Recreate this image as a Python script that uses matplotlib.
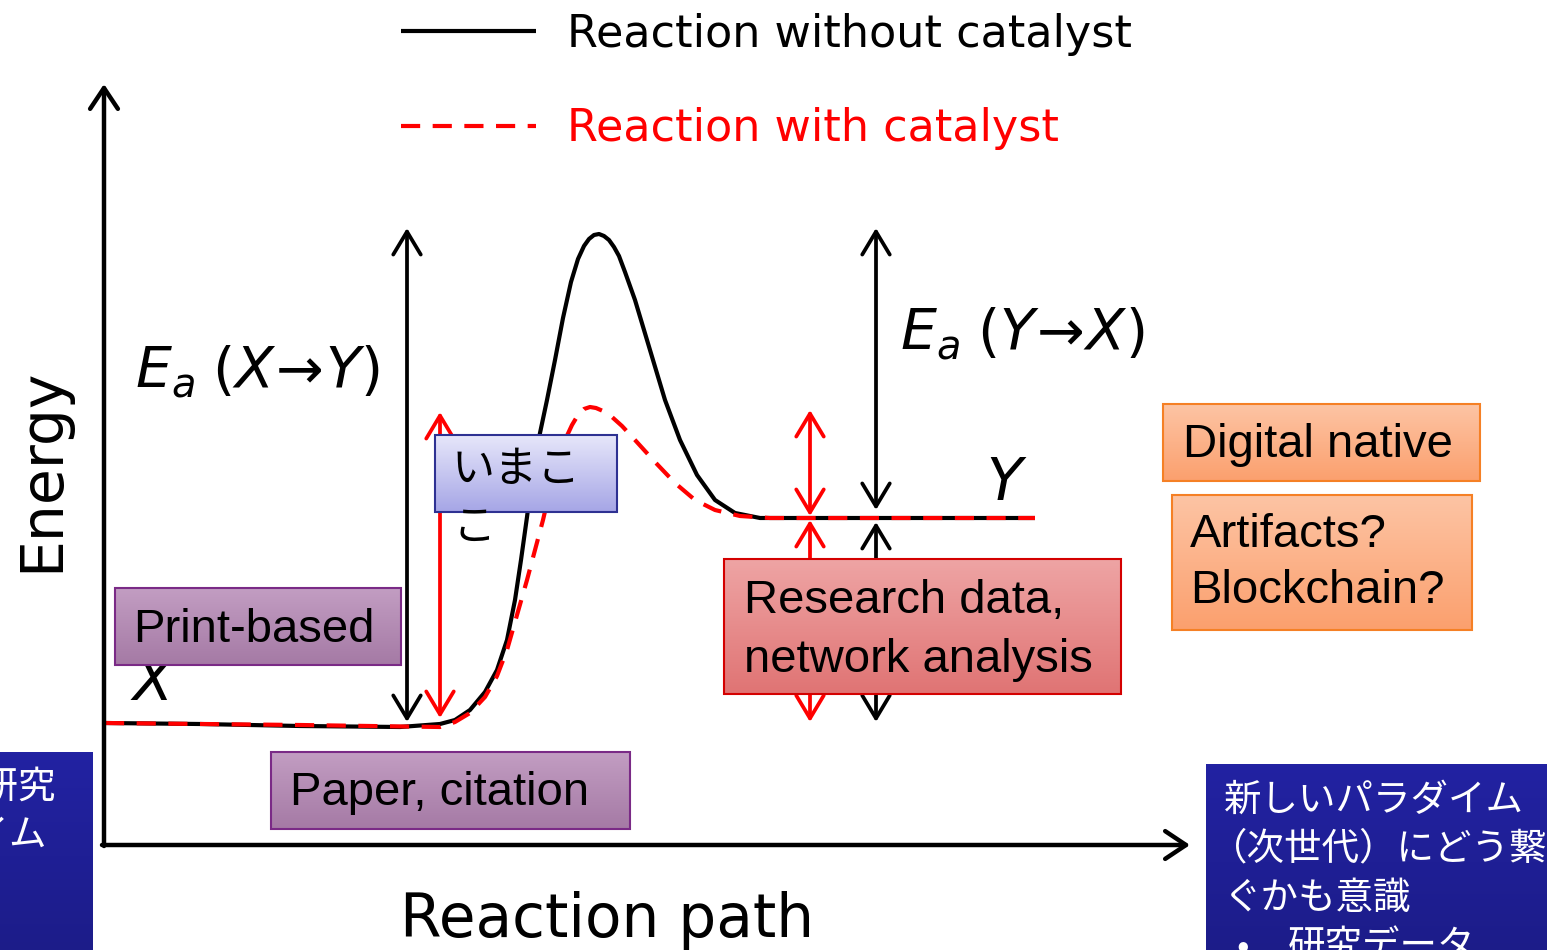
import numpy as np
import matplotlib.pyplot as plt
from matplotlib.patches import Rectangle
from matplotlib.colors import LinearSegmentedColormap

plt.rcParams['font.family'] = ['DejaVu Sans', 'Noto Sans CJK JP']
plt.rcParams['mathtext.fontset'] = 'dejavusans'

# energy profiles (diagram pixel units: x = reaction path, y = energy, down is low)
path_black = [105, 200, 300, 400, 440, 455, 470, 485, 497, 507, 515, 521, 527, 533, 540,
              547, 555, 563, 571, 578, 584, 589, 594, 599, 604, 609, 614, 619, 625, 635,
              650, 665, 680, 697, 715, 735, 760, 1035]
energy_black = [723, 724, 726, 727, 724, 720, 710, 692, 670, 640, 600, 560, 517, 470, 433,
                400, 360, 318, 282, 259, 246, 239, 235, 234, 236, 240, 247, 256, 272, 300,
                350, 400, 440, 475, 500, 513, 518, 518]
path_red = [105, 300, 440, 455, 470, 485, 497, 507, 517, 527, 535, 543, 550, 557, 565,
            572, 578, 584, 590, 596, 603, 612, 622, 635, 655, 675, 695, 715, 740, 770, 1035]
energy_red = [723, 725, 727, 722, 713, 697, 676, 650, 615, 580, 550, 520, 490, 462, 440,
              425, 415, 409, 407, 408, 411, 417, 426, 440, 462, 483, 500, 510, 516, 518, 518]

level_x = 724      # energy of X
level_y = 518      # energy of Y
peak_black = 228
peak_red = 411

fig = plt.figure(figsize=(15.47, 9.5), dpi=100)
ax = fig.add_axes([0, 0, 1, 1])


def box(x0, y0, x1, y1, top, bottom, edge, lw=1.5, z=5):
    grad = np.linspace(0, 1, 64).reshape(-1, 1)
    cmap = LinearSegmentedColormap.from_list('g', [top, bottom])
    ax.imshow(grad, cmap=cmap, extent=(x0, x1, y1, y0), aspect='auto',
              interpolation='bicubic', zorder=z)
    if edge:
        ax.add_patch(Rectangle((x0, y0), x1 - x0, y1 - y0, fill=False,
                               ec=edge, lw=lw, zorder=z + 0.1))


def darrow(x, y_top, y_bot, color):
    ax.annotate('', xy=(x, y_top), xytext=(x, y_bot),
                arrowprops=dict(arrowstyle='<->, head_length=0.75, head_width=0.45',
                                lw=2.7, color=color, mutation_scale=22,
                                shrinkA=0, shrinkB=0), zorder=3)


# axes arrows
ax.annotate('', xy=(104, 84), xytext=(104, 846),
            arrowprops=dict(arrowstyle='->, head_length=0.6, head_width=0.4',
                            lw=3.2, color='black', mutation_scale=25,
                            shrinkA=0, shrinkB=0))
ax.annotate('', xy=(1190, 845), xytext=(102, 845),
            arrowprops=dict(arrowstyle='->, head_length=0.6, head_width=0.4',
                            lw=3.2, color='black', mutation_scale=25,
                            shrinkA=0, shrinkB=0))
ax.text(42, 470, 'Energy', rotation=90, fontsize=42, ha='center', va='center')
ax.text(400, 937, 'Reaction path', fontsize=43, ha='left', va='baseline')

# curves
ax.plot(path_black, energy_black, color='black', lw=3, zorder=2,
        label='Reaction without catalyst', solid_capstyle='butt')
ax.plot(path_red, energy_red, color='red', lw=3, zorder=2.5,
        dashes=(4.6, 3.0), label='Reaction with catalyst')

# activation energy arrows
darrow(407, peak_black, level_x - 2, 'black')
darrow(440, peak_red + 1, level_x - 6, 'red')
darrow(810, peak_red - 1, level_y - 2, 'red')
darrow(810, level_y + 2, level_x - 2, 'red')
darrow(876, peak_black, level_y - 8, 'black')
darrow(876, level_y + 4, level_x - 2, 'black')

ax.text(135, 388, r'$E_a\;(X\!\rightarrow\!Y)$', fontsize=41, va='baseline')
ax.text(900, 350, r'$E_a\;(Y\!\rightarrow\!X)$', fontsize=41, va='baseline')
ax.text(986, 500, 'Y', fontsize=42, fontstyle='italic', va='baseline')
ax.text(133, 700, 'X', fontsize=42, fontstyle='italic', va='baseline')

# boxes
arial = 'Liberation Sans'
jp = ['Noto Sans CJK JP', 'DejaVu Sans']
purple = ('#c29dc2', '#a57aa5', '#7a2a86')
box(115, 588, 401, 665, *purple)
ax.text(133, 642, 'Print-based', fontsize=34, family=arial, va='baseline', zorder=6)
box(271, 752, 630, 829, *purple)
ax.text(290, 805, 'Paper, citation', fontsize=34, family=arial, va='baseline', zorder=6)

box(435, 435, 617, 512, '#e6e6fa', '#a6a6e6', '#2e3192')
ax.text(452, 470, 'いまこ', fontsize=31, family=jp, va='center', zorder=6)
ax.text(452, 528, 'こ', fontsize=31, family=jp, va='center', zorder=6)

box(724, 559, 1121, 694, '#eea4a4', '#e07474', '#d40000')
ax.text(744, 613, 'Research data,', fontsize=34, family=arial, va='baseline', zorder=6)
ax.text(744, 672, 'network analysis', fontsize=34, family=arial, va='baseline', zorder=6)

orange = ('#fdc4a4', '#fba06e', '#f58025')
box(1163, 404, 1480, 481, *orange)
ax.text(1183, 457, 'Digital native', fontsize=34, family=arial, va='baseline', zorder=6)
box(1172, 495, 1472, 630, *orange)
ax.text(1190, 547, 'Artifacts?', fontsize=34, family=arial, va='baseline', zorder=6)
ax.text(1190, 603, 'Blockchain?', fontsize=34, family=arial, va='baseline', zorder=6)

# side slides (cut off at the picture edge, as in the reference)
box(-10, 752, 93, 960, '#2222a2', '#1c1c88', None)
ax.text(56, 787, '従来の研究', fontsize=27, family=jp, color='white', ha='right',
        va='center', zorder=6)
ax.text(47, 836, 'パラダイム', fontsize=27, family=jp, color='white', ha='right',
        va='center', zorder=6)

box(1206, 764, 1560, 960, '#2222a2', '#1c1c88', None)
right_lines = ['新しいパラダイム', '（次世代）にどう繋', 'ぐかも意識']
right_x = [1224, 1210, 1224]
for i, line in enumerate(right_lines):
    ax.text(right_x[i], 800 + 49 * i, line, fontsize=27, family=jp, color='white',
            va='center', zorder=6)
ax.text(1236, 947, '•', fontsize=27, family=jp, color='white', va='center', zorder=6)
ax.text(1288, 947, '研究データ', fontsize=27, family=jp, color='white', va='center', zorder=6)

leg = ax.legend(loc='upper left', bbox_to_anchor=(383 / 1547, 1.005), frameon=False,
                fontsize=32, handlelength=3.05, handletextpad=0.68, labelspacing=1.15,
                labelcolor='linecolor', borderaxespad=0)

ax.set_xlim(0, 1547)
ax.set_ylim(950, 0)
ax.axis('off')
fig.savefig('out.png', dpi=100)
